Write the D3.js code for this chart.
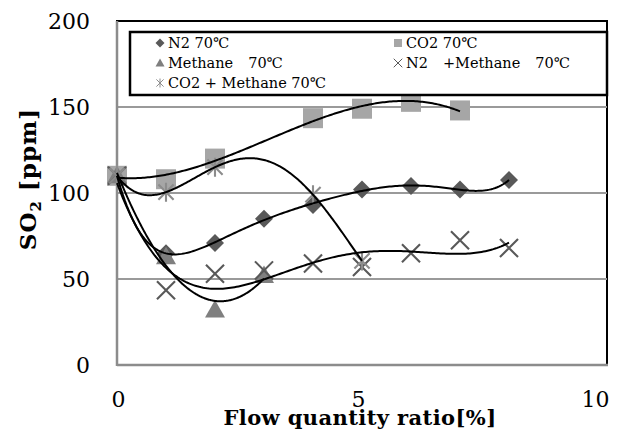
<!DOCTYPE html>
<html><head><meta charset="utf-8">
<script src="https://cdn.jsdelivr.net/npm/d3@7"></script>
<style>
html,body{margin:0;padding:0;background:#fff;}
svg{display:block;}
text{font-family:"DejaVu Serif","Liberation Serif",serif;fill:#000;}
</style></head>
<body>
<svg id="chart" width="633" height="437"></svg>
<script>
// ---- data ----
const seriesNames = ["N2 70\u2103", "CO2 70\u2103", "Methane\u300070\u2103", "N2\u3000+Methane\u300070\u2103", "CO2 + Methane 70\u2103"];
const n2X = [0,1,2,3,4,5,6,7,8];
const n2Y = [110,65,71,85,93,102,104,102,107.5];
const co2X = [0,1,2,4,5,6,7];
const co2Y = [110,108,120,143.5,149,153,148];
const methaneX = [0,1,2,3];
const methaneY = [110,63,32,52];
const n2MethaneX = [0,1,2,3,4,5,6,7,8];
const n2MethaneY = [110,43.5,53,55,59,57,65,72.5,68];
const co2MethaneX = [0,1,2,4,5];
const co2MethaneY = [110,100.5,115,99,60.5];
const trendOrders = [6,3,2,4,4];
const xTicks = [0,5,10];
const yTicks = [0,50,100,150,200];

// ---- layout ----
const m = {left:117, top:21, right:607, bottom:365};
const svg = d3.select("#chart");
const x = d3.scaleLinear().domain([0,10]).range([m.left, m.right]);
const y = d3.scaleLinear().domain([0,200]).range([m.bottom, m.top]);

const series = [
  {name:seriesNames[0], xs:n2X, ys:n2Y, shape:"diamond", color:"#595959"},
  {name:seriesNames[1], xs:co2X, ys:co2Y, shape:"square", color:"#a6a6a6"},
  {name:seriesNames[2], xs:methaneX, ys:methaneY, shape:"triangle", color:"#7f7f7f"},
  {name:seriesNames[3], xs:n2MethaneX, ys:n2MethaneY, shape:"cross", color:"#595959"},
  {name:seriesNames[4], xs:co2MethaneX, ys:co2MethaneY, shape:"star", color:"#8c8c8c"}
];

// frame
svg.append("rect").attr("x",m.left).attr("y",m.top).attr("width",m.right-m.left).attr("height",m.bottom-m.top)
  .attr("fill","#fff").attr("stroke","#000").attr("stroke-width",2);

// gridlines
svg.append("g").selectAll("line").data(yTicks.filter(v=>v>0 && v<200)).join("line")
  .attr("x1",m.left).attr("x2",m.right).attr("y1",d=>y(d)).attr("y2",d=>y(d))
  .attr("stroke","#9a9a9a").attr("stroke-width",2);

// axes lines (grey)
svg.append("line").attr("x1",m.left).attr("x2",m.left).attr("y1",m.top).attr("y2",m.bottom+1)
  .attr("stroke","#8c8c8c").attr("stroke-width",2.5);
svg.append("line").attr("x1",m.left).attr("x2",m.right+1).attr("y1",m.bottom).attr("y2",m.bottom)
  .attr("stroke","#8c8c8c").attr("stroke-width",2.5);

// y axis labels
const yAxis = d3.axisLeft(y).tickValues(yTicks).tickSize(0).tickPadding(27).tickFormat(d3.format("d"));
const gy = svg.append("g").attr("transform",`translate(${m.left},0)`).call(yAxis);
gy.select(".domain").remove();
gy.selectAll("text").style("font-family",'"DejaVu Serif",serif').style("font-size","22px").attr("fill","#000");

// x axis labels
const xAxis = d3.axisBottom(x).tickValues(xTicks).tickSize(0).tickPadding(26).tickFormat(d3.format("d"));
const gx = svg.append("g").attr("transform",`translate(0,${m.bottom})`).call(xAxis);
gx.select(".domain").remove();
gx.selectAll("text").style("font-family",'"DejaVu Serif",serif').style("font-size","22px").attr("fill","#000")
  .attr("dx", d => d===10 ? "-12" : (d===5 ? "-4" : "1"));

// marker drawing
function drawMarker(g, shape, color, s) {
  const h = s/2;
  if (shape==="diamond") {
    g.append("path").attr("d",`M0,${-h}L${h},0L0,${h}L${-h},0Z`).attr("fill",color);
  } else if (shape==="square") {
    g.append("rect").attr("x",-h).attr("y",-h).attr("width",s).attr("height",s).attr("fill",color);
  } else if (shape==="triangle") {
    g.append("path").attr("d",`M0,${-h}L${h},${h*0.75}L${-h},${h*0.75}Z`).attr("fill",color);
  } else if (shape==="cross") {
    const k=h*0.95;
    g.append("path").attr("d",`M${-k},${-k}L${k},${k}M${k},${-k}L${-k},${k}`).attr("stroke",color).attr("stroke-width",s/9).attr("fill","none");
  } else if (shape==="star") {
    const k=h*0.8;
    g.append("path").attr("d",`M${-k},${-k}L${k},${k}M${k},${-k}L${-k},${k}M0,${-h}L0,${h}`).attr("stroke",color).attr("stroke-width",s/9).attr("fill","none");
  }
}

const markerSizes = {diamond:18, square:20, triangle:20, cross:19, star:19};
const gm = svg.append("g");
series.forEach(sr => {
  sr.xs.forEach((xv,i) => {
    const g = gm.append("g").attr("transform",`translate(${x(xv)},${y(sr.ys[i])})`);
    drawMarker(g, sr.shape, sr.color, markerSizes[sr.shape]);
  });
});

// polynomial least squares trendline
function polyfit(xs, ys, order) {
  const n = order+1;
  const A = Array.from({length:n},()=>new Array(n+1).fill(0));
  for (let r=0;r<n;r++){
    for (let c=0;c<n;c++){ A[r][c]=d3.sum(xs, xv=>Math.pow(xv,r+c)); }
    A[r][n]=d3.sum(xs.map((xv,i)=>Math.pow(xv,r)*ys[i]));
  }
  for (let i=0;i<n;i++){
    let p=i; for(let k=i+1;k<n;k++) if(Math.abs(A[k][i])>Math.abs(A[p][i])) p=k;
    [A[i],A[p]]=[A[p],A[i]];
    for(let k=i+1;k<n;k++){ const f=A[k][i]/A[i][i]; for(let j=i;j<=n;j++) A[k][j]-=f*A[i][j]; }
  }
  const c=new Array(n).fill(0);
  for(let i=n-1;i>=0;i--){ let s=A[i][n]; for(let j=i+1;j<n;j++) s-=A[i][j]*c[j]; c[i]=s/A[i][i]; }
  return xv => c.reduce((acc,ci,k)=>acc+ci*Math.pow(xv,k),0);
}
const line = d3.line().x(d=>x(d[0])).y(d=>y(d[1]));
const gt = svg.append("g");
series.forEach((sr,si) => {
  const f = polyfit(sr.xs, sr.ys, Math.min(trendOrders[si], sr.xs.length-1));
  const x0 = d3.min(sr.xs), x1 = d3.max(sr.xs);
  const pts = d3.range(0,201).map(i => { const xv = x0+(x1-x0)*i/200; return [xv, f(xv)]; });
  gt.append("path").datum(pts).attr("d",line).attr("fill","none").attr("stroke","#000").attr("stroke-width",2);
});

// legend
const lg = svg.append("g");
lg.append("rect").attr("x",130).attr("y",32).attr("width",477).attr("height",63)
  .attr("fill","#fff").attr("stroke","#000").attr("stroke-width",2.5);
const legendPos = [[160,43],[398,43],[160,63],[398,63],[160,83]];
series.forEach((sr,i)=>{
  const [lx,ly]=legendPos[i];
  const g = lg.append("g").attr("transform",`translate(${lx},${ly})`);
  drawMarker(g, sr.shape, sr.color, sr.shape==="square"?8:9);
  lg.append("text").attr("x",lx+8).attr("y",ly).attr("dy","0.36em")
    .style("font-family",'"DejaVu Serif",serif').style("font-size","14.5px").text(sr.name);
});

// axis titles
svg.append("text").attr("transform",`translate(36,179) rotate(-90)`).attr("text-anchor","middle")
  .style("font-size","23px").style("font-weight","bold").style("letter-spacing","1px")
  .call(t=>{ t.append("tspan").text("SO");
             t.append("tspan").attr("dy","5").style("font-size","15px").text("2");
             t.append("tspan").attr("dy","-5").text(" [ppm]"); });
svg.append("text").attr("x",360).attr("y",425).attr("text-anchor","middle")
  .style("font-size","21px").style("font-weight","bold").style("letter-spacing","0.4px").text("Flow quantity ratio[%]");
</script>
</body></html>
